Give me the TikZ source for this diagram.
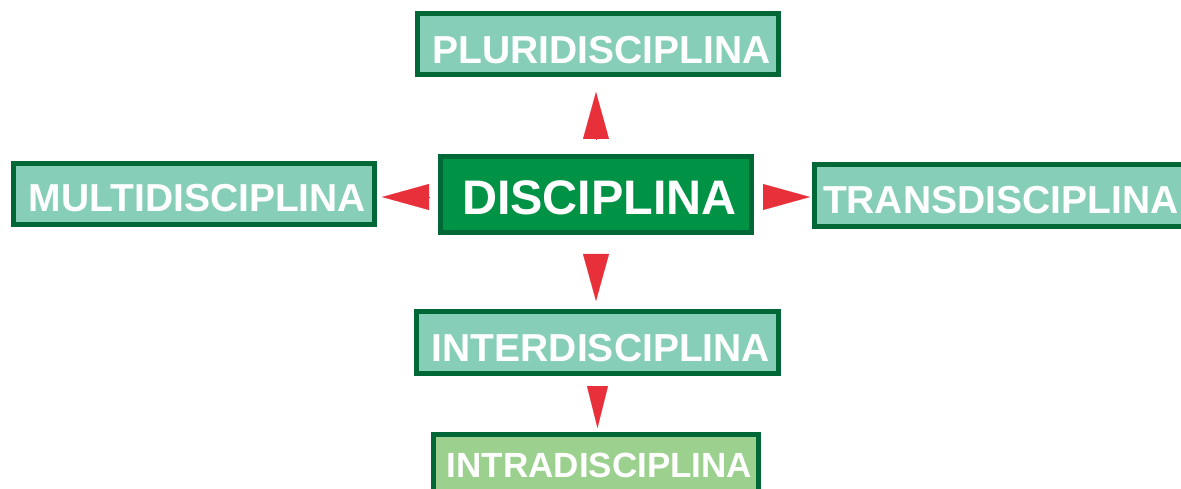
\documentclass[tikz,border=0pt]{standalone}
\usepackage{fontspec}
\setmainfont{Liberation Sans}
\usetikzlibrary{arrows.meta}
\definecolor{frame}{HTML}{006837}
\definecolor{lightfill}{HTML}{86CEB7}
\definecolor{corefill}{HTML}{009245}
\definecolor{intrafill}{HTML}{9BD08F}
\definecolor{arrowred}{HTML}{E8303A}
\begin{document}
\begin{tikzpicture}[x=1pt,y=1pt,
  box/.style={draw=frame, line width=5pt, inner sep=0pt, text=white,
    text depth=0pt, font=\fontsize{39}{40}\selectfont\bfseries},
  centred/.style={execute at begin node=\hspace*{7pt}},
  arr/.style={draw=arrowred, fill=arrowred, line width=0.1pt,
    -{Triangle[length=47pt,width=26pt]}}]
\useasboundingbox (0,0) rectangle (1181,488);

% boxes
\node[box, centred, fill=lightfill, minimum width=361pt, minimum height=61pt, text height=38.6pt]
  (pluri) at (598,444) {PLURIDISCIPLINA};
\node[box, centred, fill=corefill, minimum width=311pt, minimum height=76pt, text height=41pt,
  font=\fontsize{48.5}{50}\selectfont\bfseries]
  (disc) at (596,293.5) {DISCIPLINA};
\node[box, centred, fill=lightfill, minimum width=361pt, minimum height=61pt, text height=35.4pt]
  (multi) at (194,294) {MULTIDISCIPLINA};
\node[box, fill=lightfill, minimum height=62pt, text height=35.6pt, anchor=west]
  (trans) at (812,292.5) {\hspace*{8.5pt}TRANSDISCIPLINA\hspace*{20pt}};
\node[box, centred, fill=lightfill, minimum width=362pt, minimum height=62pt, text height=38.4pt]
  (inter) at (597.5,145.5) {INTERDISCIPLINA};
\node[box, centred, fill=intrafill, minimum width=325pt, minimum height=59pt, text height=26pt,
  font=\fontsize{35}{36}\selectfont\bfseries]
  (intra) at (596,24) {INTRADISCIPLINA};

% arrows
\draw[arr, shorten <=15pt, shorten >=15pt] (disc.north) -- (disc.north |- pluri.south);
\draw[arr, shorten <=9pt, shorten >=5pt]
  ([yshift=-2.5pt]disc.west) -- ([yshift=-2.5pt]disc.west -| multi.east);
\draw[arr, shorten <=9pt, shorten >=2pt]
  ([yshift=-2.5pt]disc.east) -- ([yshift=-2.5pt]disc.east -| trans.west);
\draw[arr, shorten <=19pt, shorten >=8pt] (disc.south) -- (disc.south |- inter.north);
\draw[arr, shorten <=10pt, shorten >=4pt, -{Triangle[length=42pt,width=21pt]}]
  (inter.south) -- (inter.south |- intra.north);
\end{tikzpicture}
\end{document}
